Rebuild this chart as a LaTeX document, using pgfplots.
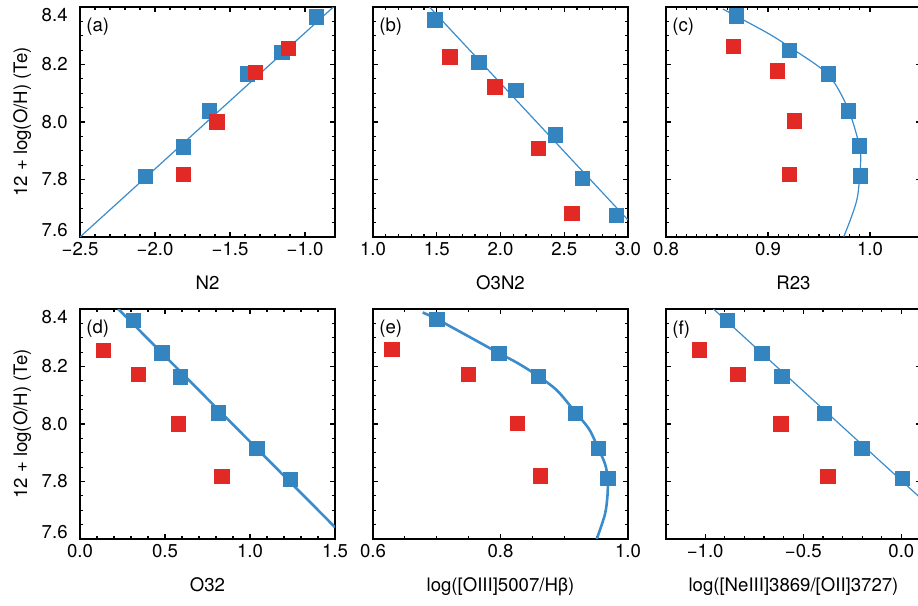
\documentclass[border=0pt]{standalone}
\usepackage{pgfplots}
\pgfplotsset{compat=1.18}
\usepackage{fontspec}
\setmainfont{TeX Gyre Heros}
\definecolor{cblue}{RGB}{52,132,192}
\definecolor{cred}{RGB}{226,41,38}
\definecolor{cline}{RGB}{58,140,204}
\tikzset{plabel/.style={anchor=north west, inner sep=0pt, font=\fontsize{9.3}{11}\selectfont}}
\pgfplotsset{
  panel/.style={
    scale only axis, width=127.5pt, height=115pt,
    anchor=north west,
    ymin=7.6, ymax=8.4,
    ytick={7.6,7.8,8.0,8.2,8.4},
    minor y tick num=3,
    tick align=inside,
    xtick pos=both, ytick pos=both,
    xticklabel pos=lower, yticklabel pos=left,
    major tick length=2.6pt, minor tick length=1.5pt,
    axis line style={line width=0.8pt},
    every tick/.style={black, line width=0.6pt},
    tick label style={font=\fontsize{9.3}{11}\selectfont},
    label style={font=\fontsize{9.3}{11}\selectfont},
    xticklabel style={anchor=north, inner sep=0pt, yshift=-2.5pt},
    yticklabel style={anchor=east, inner sep=0pt, xshift=-6pt},
    xlabel style={at={(axis description cs:0.5,-0.2304)}, anchor=base},
    ylabel style={at={(axis description cs:-0.2078,0.5)}, anchor=base},
  },
  leftp/.style={yticklabels={\raisebox{3.5pt}[\height][\depth]{7.6},7.8,8.0,8.2,\raisebox{-4pt}[\height][\depth]{8.4}}, ylabel={12 + log(O/H) (Te)}},
  innerp/.style={yticklabels={}},
  bl/.style={only marks, mark=square*, mark size=3.6pt, color=cblue, mark options={line width=0.1pt}},
  rd/.style={only marks, mark=square*, mark size=3.6pt, color=cred, mark options={line width=0.1pt}},
  thinl/.style={no marks, color=cline, line width=0.6pt},
  thickl/.style={no marks, color=cline, line width=1.3pt},
}
\begin{document}
\begin{tikzpicture}
% (a)
\begin{axis}[panel, leftp, at={(40pt,-3.5pt)}, xmin=-2.5, xmax=-0.8,
  xtick={-2.5,-2,-1.5,-1}, xticklabels={−2.5,−2.0,−1.5,−1.0}, minor x tick num=4, xlabel={N2}]
\addplot[thinl] coordinates {(-2.5,7.600) (-0.8,8.405)};
\addplot[bl] coordinates {(-0.927,8.367) (-1.156,8.244) (-1.385,8.169) (-1.638,8.040) (-1.811,7.915) (-2.067,7.811)};
\addplot[rd] coordinates {(-1.111,8.257) (-1.333,8.174) (-1.589,8.001) (-1.811,7.818)};
\node[plabel] at ([xshift=3pt,yshift=-5.5pt]rel axis cs:0,1) {(a)};
\end{axis}
% (b)
\begin{axis}[panel, innerp, at={(186.5pt,-3.5pt)}, xmin=1.0, xmax=3.0,
  xtick={1,1.5,2,2.5,3}, xticklabels={1.0,1.5,2.0,2.5,3.0}, minor x tick num=4, xlabel={O3N2}]
\addplot[thinl] coordinates {(1.443,8.4) (3.0,7.659)};
\addplot[bl] coordinates {(1.483,8.356) (1.829,8.209) (2.118,8.111) (2.428,7.956) (2.638,7.805) (2.906,7.677)};
\addplot[rd] coordinates {(1.601,8.228) (1.955,8.123) (2.294,7.910) (2.557,7.683)};
\node[plabel] at ([xshift=3pt,yshift=-5.5pt]rel axis cs:0,1) {(b)};
\end{axis}
% (c)
\begin{axis}[panel, innerp, at={(333pt,-3.5pt)}, xmin=0.8, xmax=1.05,
  xtick={0.8,0.9,1.0}, xticklabels={0.8,0.9,1.0}, minor x tick num=9, xlabel={R23}]
\addplot[thinl, smooth] coordinates {(0.8557,8.393) (0.8983,8.312) (0.9206,8.262) (0.9589,8.165) (0.9786,8.045) (0.9894,7.920) (0.9908,7.857) (0.9878,7.741) (0.9819,7.671) (0.9743,7.601)};
\addplot[bl] coordinates {(0.8688,8.370) (0.9206,8.250) (0.9589,8.169) (0.9786,8.040) (0.9894,7.918) (0.9904,7.813)};
\addplot[rd] coordinates {(0.8655,8.263) (0.9088,8.179) (0.9255,8.005) (0.9206,7.819)};
\node[plabel] at ([xshift=3pt,yshift=-5.5pt]rel axis cs:0,1) {(c)};
\end{axis}
% (d)
\begin{axis}[panel, leftp, at={(40pt,-154.5pt)}, xmin=0, xmax=1.5,
  xtick={0,0.5,1,1.5}, xticklabels={0.0,0.5,1.0,1.5}, minor x tick num=4, xlabel={O32}]
\addplot[thickl] coordinates {(0.225,8.4) (1.5,7.641)};
\addplot[bl] coordinates {(0.314,8.362) (0.481,8.248) (0.588,8.165) (0.814,8.039) (1.039,7.917) (1.235,7.809)};
\addplot[rd] coordinates {(0.137,8.257) (0.343,8.174) (0.578,8.002) (0.833,7.819)};
\node[plabel] at ([xshift=3pt,yshift=-5.5pt]rel axis cs:0,1) {(d)};
\end{axis}
% (e)
\begin{axis}[panel, innerp, at={(186.5pt,-154.5pt)}, xmin=0.6, xmax=1.0,
  xtick={0.6,0.8,1.0}, xticklabels={0.6,0.8,1.0}, minor x tick num=3, xlabel={log([OIII]5007/Hβ)}]
\addplot[thickl, smooth] coordinates {(0.678,8.388) (0.700,8.365) (0.748,8.307) (0.797,8.247) (0.826,8.213) (0.859,8.167) (0.889,8.116) (0.917,8.042) (0.939,7.982) (0.953,7.917) (0.964,7.861) (0.968,7.812) (0.968,7.757) (0.964,7.687) (0.951,7.600)};
\addplot[bl] coordinates {(0.700,8.365) (0.797,8.247) (0.859,8.167) (0.917,8.038) (0.953,7.917) (0.968,7.812)};
\addplot[rd] coordinates {(0.629,8.261) (0.749,8.174) (0.826,8.003) (0.862,7.820)};
\node[plabel] at ([xshift=3pt,yshift=-5.5pt]rel axis cs:0,1) {(e)};
\end{axis}
% (f)
\begin{axis}[panel, innerp, at={(333pt,-154.5pt)}, xmin=-1.2, xmax=0.1,
  xtick={-1,-0.5,0}, xticklabels={−1.0,−0.5,0.0}, minor x tick num=4, xlabel={log([NeIII]3869/[OII]3727)}]
\addplot[thinl] coordinates {(-0.958,8.4) (0.1,7.741)};
\addplot[bl] coordinates {(-0.887,8.362) (-0.712,8.246) (-0.610,8.167) (-0.393,8.037) (-0.203,7.917) (0.005,7.812)};
\addplot[rd] coordinates {(-1.032,8.259) (-0.836,8.174) (-0.615,8.002) (-0.376,7.819)};
\node[plabel] at ([xshift=3pt,yshift=-5.5pt]rel axis cs:0,1) {(f)};
\end{axis}
\pgfresetboundingbox
\useasboundingbox (0,0) rectangle (459pt,-303pt);
\end{tikzpicture}
\end{document}
